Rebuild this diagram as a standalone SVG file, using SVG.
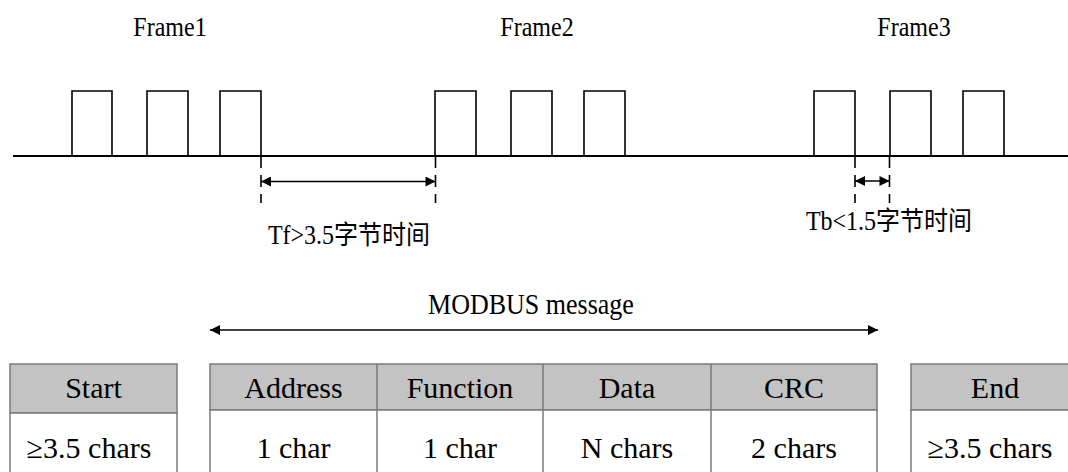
<svg xmlns="http://www.w3.org/2000/svg" width="1068" height="472" viewBox="0 0 1068 472">
<defs>
<style>
.t{font-family:"Liberation Serif","Noto Sans CJK SC",serif;fill:#000;text-anchor:middle}
.fl{font-size:24px}
.tb{font-size:30px}
.wave{fill:none;stroke:#000;stroke-width:1.6}
.base{stroke:#000;stroke-width:2}
.dash{stroke:#000;stroke-width:1.6;stroke-dasharray:12 7}
.arr{stroke:#000;stroke-width:1.6;fill:none}
.hd{fill:#c3c3c3;stroke:#7a7a7a;stroke-width:1.5}
.bd{fill:#fff;stroke:#7a7a7a;stroke-width:1.5}
.ln{stroke:#7a7a7a;stroke-width:1.5}
</style>
<marker id="ah" viewBox="0 0 10 10" refX="10" refY="5" markerWidth="11" markerHeight="10" markerUnits="userSpaceOnUse" orient="auto-start-reverse">
<path d="M0,0 L10,5 L0,10 Z" fill="#000"/>
</marker>
<marker id="ah2" viewBox="0 0 10 10" refX="10" refY="5" markerWidth="10" markerHeight="11" markerUnits="userSpaceOnUse" orient="auto-start-reverse">
<path d="M0,0 L10,5 L0,10 Z" fill="#000"/>
</marker>
</defs>
<rect width="1068" height="472" fill="#fff"/>
<line class="base" x1="13" y1="156" x2="1068" y2="156"/>
<g id="frame1">
<text class="t fl" transform="translate(170,36) scale(1,1.15)">Frame1</text>
<path class="wave" d="M72,156 V91 H112 V156 M147,156 V91 H188 V156 M220,156 V91 H261 V156"/>
</g>
<g id="frame2">
<text class="t fl" transform="translate(537,36) scale(1,1.15)">Frame2</text>
<path class="wave" d="M435,156 V91 H476 V156 M511,156 V91 H552 V156 M584,156 V91 H625 V156"/>
</g>
<g id="frame3">
<text class="t fl" transform="translate(914,36) scale(1,1.15)">Frame3</text>
<path class="wave" d="M814,156 V91 H855 V156 M890,156 V91 H931 V156 M963,156 V91 H1004 V156"/>
</g>
<g id="connectors">
<line class="dash" x1="261" y1="156" x2="261" y2="203"/>
<line class="dash" x1="435.5" y1="156" x2="435.5" y2="203"/>
<line class="arr" x1="261" y1="181.5" x2="435.5" y2="181.5" marker-start="url(#ah)" marker-end="url(#ah)"/>
<line class="dash" x1="855" y1="156" x2="855" y2="203"/>
<line class="dash" x1="889.5" y1="156" x2="889.5" y2="203"/>
<line class="arr" x1="855" y1="181" x2="889.5" y2="181" marker-start="url(#ah)" marker-end="url(#ah)"/>
<line class="arr" x1="210" y1="330" x2="878" y2="330" stroke-width="1.3" marker-start="url(#ah2)" marker-end="url(#ah2)"/>
</g>
<g id="tf-label"><text class="t fl" transform="translate(349,244) scale(1,1.1)">Tf&gt;3.5字节时间</text></g>
<g id="tb-label"><text class="t fl" transform="translate(889,230) scale(1,1.1)">Tb&lt;1.5字节时间</text></g>
<g id="modbus-label"><text class="t" font-size="26" transform="translate(531,314) scale(1,1.1)">MODBUS message</text></g>
<g id="start">
<rect class="hd" x="10" y="364" width="167" height="49"/>
<rect class="bd" x="10" y="413" width="167" height="70"/>
<text class="t tb" x="93.5" y="398">Start</text>
<text class="t tb" x="89" y="458">≥3.5 chars</text>
</g>
<g id="message">
<rect class="hd" x="210" y="364" width="667" height="46"/>
<rect class="bd" x="210" y="410" width="667" height="73"/>
<line class="ln" x1="377" y1="364" x2="377" y2="483"/>
<line class="ln" x1="543" y1="364" x2="543" y2="483"/>
<line class="ln" x1="711" y1="364" x2="711" y2="483"/>
<text class="t tb" x="293.5" y="398">Address</text>
<text class="t tb" x="460" y="398">Function</text>
<text class="t tb" x="627" y="398">Data</text>
<text class="t tb" x="794" y="398">CRC</text>
<text class="t tb" x="293.5" y="458">1 char</text>
<text class="t tb" x="460" y="458">1 char</text>
<text class="t tb" x="627" y="458">N chars</text>
<text class="t tb" x="794" y="458">2 chars</text>
</g>
<g id="end">
<rect class="hd" x="911" y="364" width="170" height="46"/>
<rect class="bd" x="911" y="410" width="170" height="73"/>
<text class="t tb" x="995" y="398">End</text>
<text class="t tb" x="990" y="458">≥3.5 chars</text>
</g>
</svg>
